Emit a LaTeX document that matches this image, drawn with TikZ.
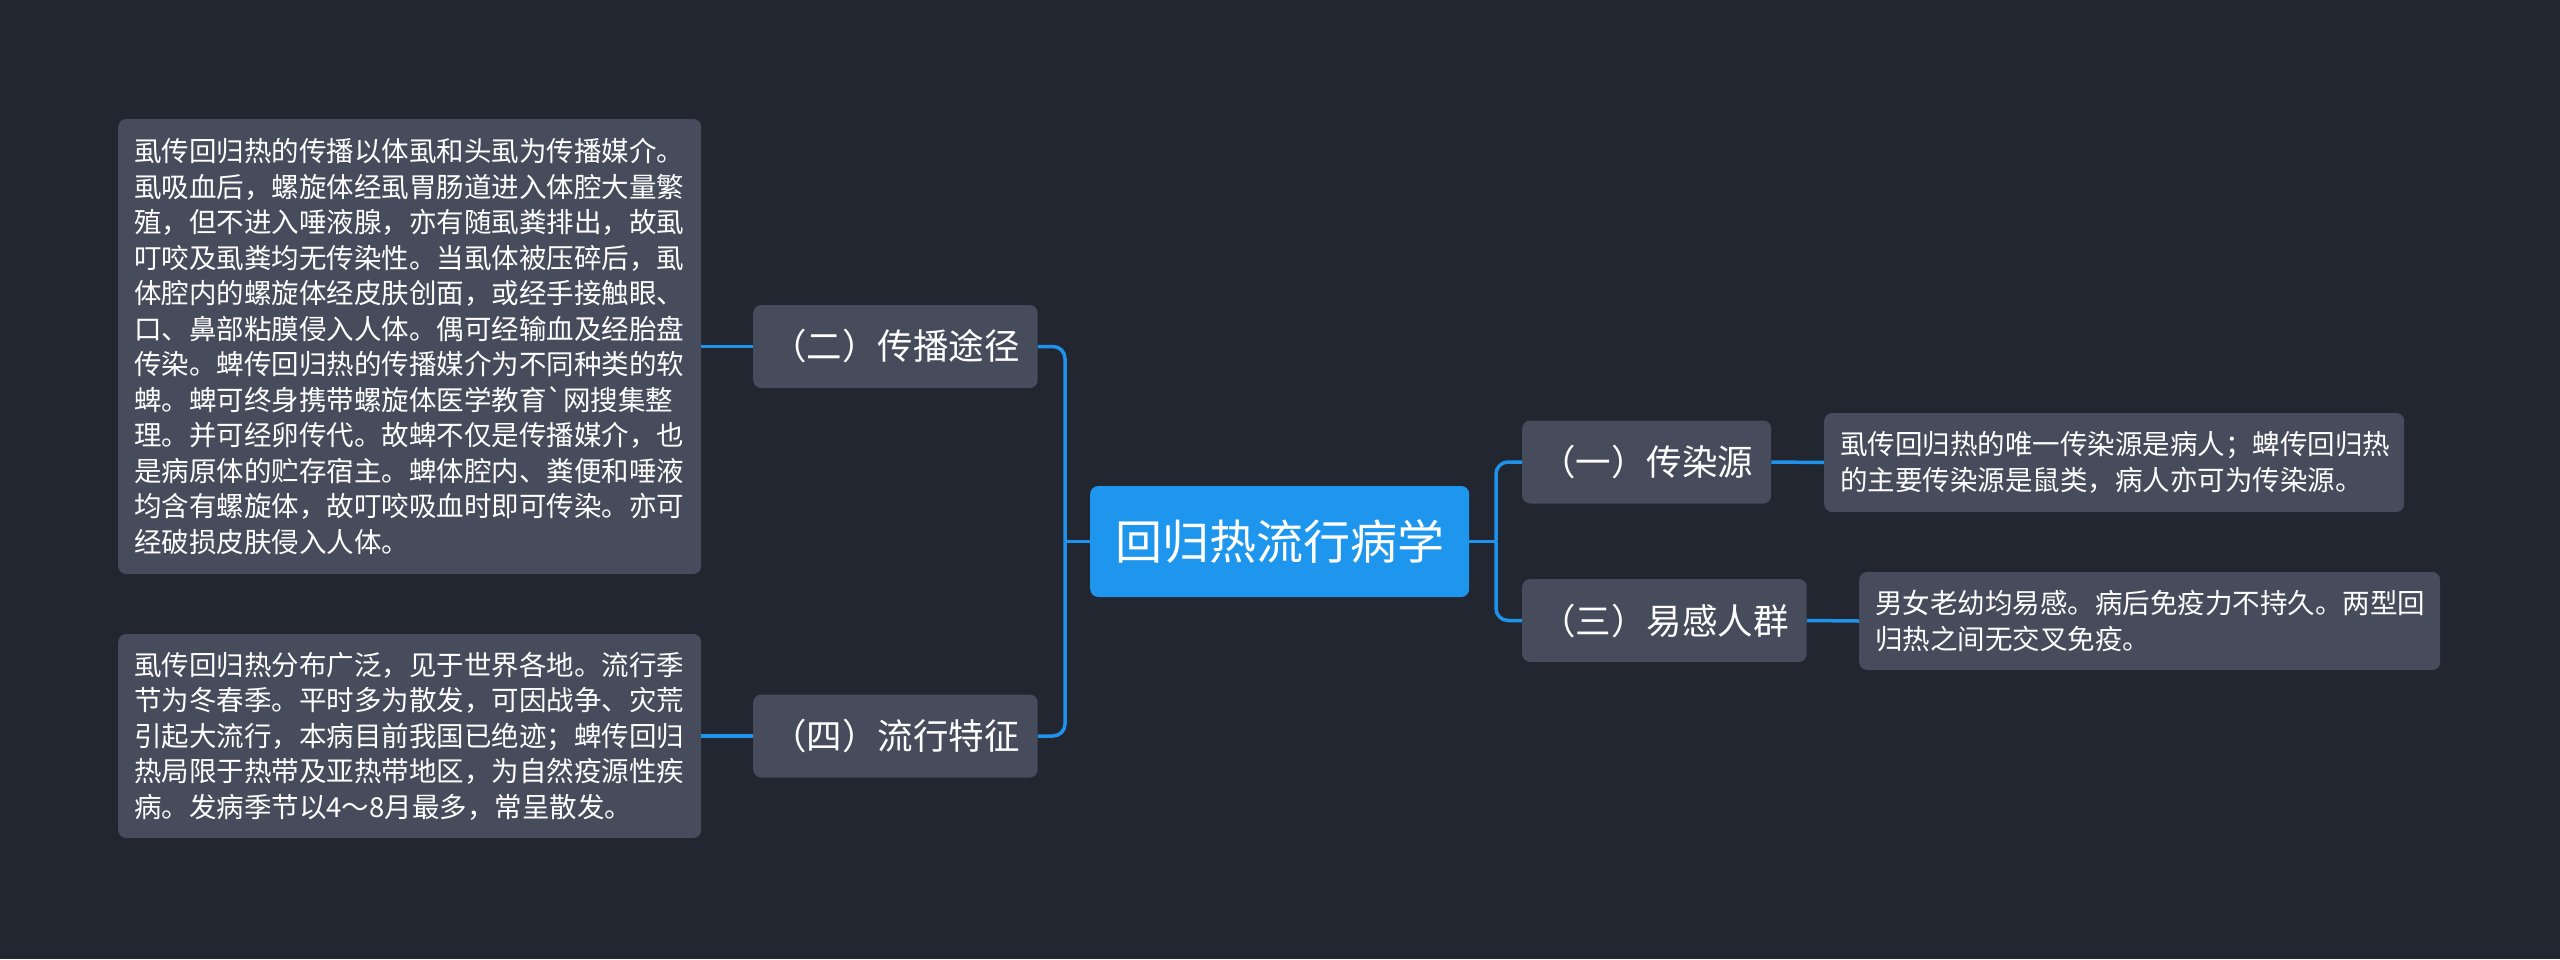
\documentclass[tikz,border=0pt]{standalone}
\usepackage{fontspec}
\newfontfamily\cjk{Noto Sans CJK SC}[Ligatures=TeXOff]
\definecolor{bgc}{HTML}{222630}
\definecolor{nodefill}{HTML}{464C5B}
\definecolor{rootfill}{HTML}{1E96EE}
\definecolor{linec}{HTML}{1F93EB}
\begin{document}
\begin{tikzpicture}[x=1pt,y=-1pt,
  box/.style={rounded corners=8pt, fill=nodefill, text=white, inner ysep=0pt},
  leaf/.style={box, anchor=west, inner xsep=16pt, align=left,
    font=\cjk\fontsize{27.5}{35.5}\selectfont},
  topic/.style={box, anchor=west, inner xsep=18pt, minimum height=83pt,
    font=\cjk\fontsize{35.5}{42}\selectfont},
  rootbox/.style={rounded corners=8pt, fill=rootfill, text=white, anchor=west,
    inner xsep=25pt, inner ysep=0pt, minimum height=111pt,
    font=\cjk\fontsize{47}{56}\selectfont},
  conn/.style={draw=linec, line width=3.5pt},
  bus/.style={conn, rounded corners=12pt}]
\fill[bgc] (0,0) rectangle (2560,959);
\useasboundingbox (0,0) rectangle (2560,959);

\node[rootbox] (root) at (1090,541.5) {回归热流行病学};

\node[topic] (er) at (753,346.5) {（二）传播途径};
\node[topic] (si) at (753,736) {（四）流行特征};
\node[topic] (yi) at (1522,462) {（一）传染源};
\node[topic] (san) at (1522,620.5) {（三）易感人群};

\node[leaf, text width=551pt, minimum height=455pt] (t2) at (118,346.5) {%
虱传回归热的传播以体虱和头虱为传播媒介。\\%
虱吸血后，螺旋体经虱胃肠道进入体腔大量繁\\%
殖，但不进入唾液腺，亦有随虱粪排出，故虱\\%
叮咬及虱粪均无传染性。当虱体被压碎后，虱\\%
体腔内的螺旋体经皮肤创面，或经手接触眼、\\%
口、鼻部粘膜侵入人体。偶可经输血及经胎盘\\%
传染。蜱传回归热的传播媒介为不同种类的软\\%
蜱。蜱可终身携带螺旋体医学教育`网搜集整\\%
理。并可经卵传代。故蜱不仅是传播媒介，也\\%
是病原体的贮存宿主。蜱体腔内、粪便和唾液\\%
均含有螺旋体，故叮咬吸血时即可传染。亦可\\%
经破损皮肤侵入人体。};

\node[leaf, text width=551pt, minimum height=204pt] (t4) at (118,736) {%
虱传回归热分布广泛，见于世界各地。流行季\\%
节为冬春季。平时多为散发，可因战争、灾荒\\%
引起大流行，本病目前我国已绝迹；蜱传回归\\%
热局限于热带及亚热带地区，为自然疫源性疾\\%
病。发病季节以4～8月最多，常呈散发。};

\node[leaf, text width=548pt, minimum height=99pt] (t1) at (1824,462.5) {%
虱传回归热的唯一传染源是病人；蜱传回归热\\%
的主要传染源是鼠类，病人亦可为传染源。};

\node[leaf, text width=549pt, minimum height=98pt] (t3) at (1859,621) {%
男女老幼均易感。病后免疫力不持久。两型回\\%
归热之间无交叉免疫。};

\coordinate (lbus) at (1065,541.5);
\coordinate (rbus) at (1496,541.5);

\draw[conn] (root.west) -- (lbus);
\draw[bus] (lbus) |- (er.east);
\draw[bus] (lbus) |- (si.east);
\draw[conn] (root.east) -- (rbus);
\draw[bus] (rbus) |- (yi.west);
\draw[bus] (rbus) |- (san.west);

\draw[conn] (er.west) -- (t2.east);
\draw[conn] (si.west) -- (t4.east);
\draw[conn] (yi.east) -- (t1.west);
\draw[conn] (san.east) -- (t3.west);
\end{tikzpicture}
\end{document}
